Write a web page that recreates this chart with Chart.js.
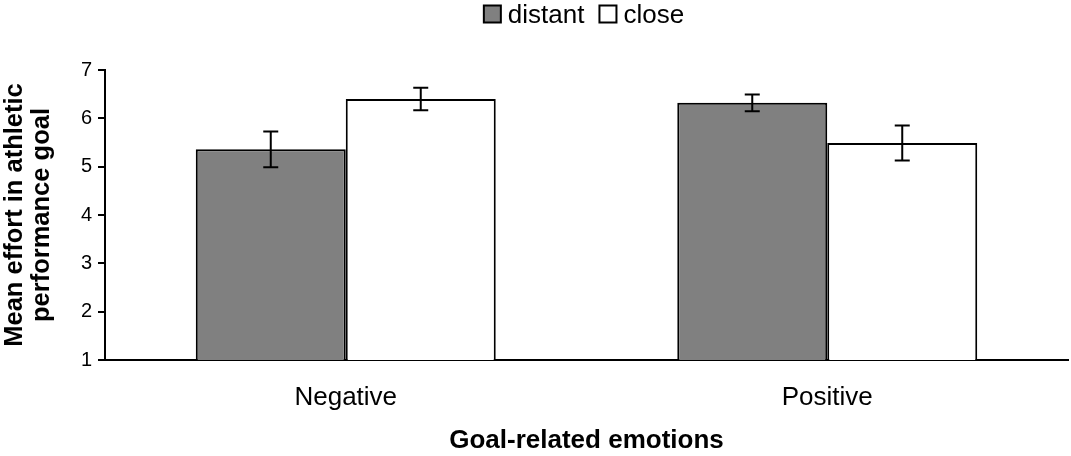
<!DOCTYPE html>
<html>
<head>
<meta charset="utf-8">
<script src="https://cdn.jsdelivr.net/npm/chart.js@4.4.0/dist/chart.umd.min.js"></script>
<style>
html,body{margin:0;padding:0;background:#fff;}
#wrap{width:1071px;height:456px;}
</style>
</head>
<body>
<div id="wrap"><canvas id="c" width="1071" height="456"></canvas></div>
<script>
const categories = ["Negative", "Positive"];
const seriesNames = ["distant", "close"];
const distantValues = [5.36, 6.32];
const closeValues = [6.40, 5.49];
const distantErrors = [0.37, 0.175];
const closeErrors = [0.235, 0.36];
const yTicks = [1, 2, 3, 4, 5, 6, 7];

const FONT = "'Liberation Sans', Arial, Helvetica, sans-serif";

const errorBarPlugin = {
  id: 'errorBars',
  afterDatasetsDraw(chart) {
    const ctx = chart.ctx;
    const yScale = chart.scales.y;
    chart.data.datasets.forEach((ds, di) => {
      const meta = chart.getDatasetMeta(di);
      meta.data.forEach((bar, i) => {
        const v = ds.data[i];
        const e = ds.errors[i];
        const yTop = yScale.getPixelForValue(v + e);
        const yBot = yScale.getPixelForValue(v - e);
        const x = bar.x;
        ctx.save();
        ctx.strokeStyle = '#000';
        ctx.lineWidth = 2;
        ctx.beginPath();
        ctx.moveTo(x, yTop); ctx.lineTo(x, yBot);
        ctx.moveTo(x - 7.5, yTop); ctx.lineTo(x + 7.5, yTop);
        ctx.moveTo(x - 7.5, yBot); ctx.lineTo(x + 7.5, yBot);
        ctx.stroke();
        ctx.restore();
      });
    });
  }
};

const legendPlugin = {
  id: 'customLegend',
  afterDraw(chart) {
    const ctx = chart.ctx;
    ctx.save();
    ctx.font = "26px " + FONT;
    ctx.textBaseline = 'alphabetic';
    ctx.textAlign = 'left';
    const box = 17;
    const gapBoxText = 7;
    const gapItems = 15;
    const items = chart.data.datasets.map(ds => ({label: ds.label, fill: ds.backgroundColor}));
    let total = 0;
    items.forEach((it, i) => {
      it.w = ctx.measureText(it.label).width;
      total += box + gapBoxText + it.w + (i < items.length - 1 ? gapItems : 0);
    });
    let x = 584 - total / 2;
    const yTop = 5.5;
    items.forEach(it => {
      ctx.fillStyle = it.fill;
      ctx.fillRect(x, yTop, box, box);
      ctx.strokeStyle = '#000';
      ctx.lineWidth = 2;
      ctx.strokeRect(x, yTop, box, box);
      ctx.fillStyle = '#000';
      ctx.fillText(it.label, x + box + gapBoxText, 23);
      x += box + gapBoxText + it.w + gapItems;
    });
    ctx.restore();
  }
};

new Chart(document.getElementById('c'), {
  type: 'bar',
  data: {
    labels: categories,
    datasets: [
      {label: seriesNames[0], data: distantValues, errors: distantErrors,
       backgroundColor: '#808080', borderColor: '#000', borderWidth: 2},
      {label: seriesNames[1], data: closeValues, errors: closeErrors,
       backgroundColor: '#ffffff', borderColor: '#000', borderWidth: 2}
    ]
  },
  options: {
    responsive: false,
    animation: false,
    devicePixelRatio: 1,
    layout: {padding: {top: 70, right: 3, bottom: 0, left: 0}},
    datasets: {bar: {barPercentage: 1.0, categoryPercentage: 0.623, borderSkipped: 'bottom'}},
    plugins: {legend: {display: false}, tooltip: {enabled: false}, title: {display: false}},
    scales: {
      x: {
        grid: {display: false, drawTicks: false},
        border: {display: true, color: '#000', width: 2},
        ticks: {color: '#000', font: {family: FONT, size: 26}, padding: 22},
        title: {display: true, text: 'Goal-related emotions', color: '#000',
                font: {family: FONT, size: 26, weight: 'bold'}, padding: {top: 0, bottom: 0}},
        afterFit(scale) { scale.height = 96; }
      },
      y: {
        min: 1, max: 7,
        afterBuildTicks(scale) { scale.ticks = yTicks.map(v => ({value: v})); },
        grid: {display: true, drawOnChartArea: false, drawTicks: true, tickLength: 7, color: '#000', lineWidth: 2},
        border: {display: true, color: '#000', width: 2},
        ticks: {color: '#000', font: {family: FONT, size: 20}, padding: 6},
        title: {display: true, text: ['Mean effort in athletic', 'performance goal'], color: '#000',
                font: {family: FONT, size: 25.5, weight: 'bold', lineHeight: 1.04}, padding: {top: 2, bottom: 0}},
        afterFit(scale) { scale.width = 105; }
      }
    }
  },
  plugins: [errorBarPlugin, legendPlugin]
});
</script>
</body>
</html>
